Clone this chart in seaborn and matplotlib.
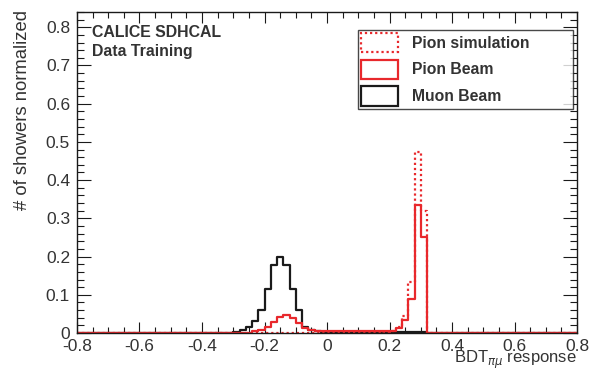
import numpy as np
import pandas as pd
import matplotlib
matplotlib.use("Agg")
import matplotlib.pyplot as plt
import seaborn as sns
from matplotlib.patches import Patch
from matplotlib.ticker import MultipleLocator

# ---- data (bin centres, bin width 0.02 on [-0.8, 0.8]) ----
muon_x = [-0.29, -0.27, -0.25, -0.23, -0.21, -0.19, -0.17, -0.15, -0.13, -0.11,
          -0.09, -0.07, -0.05, -0.03, -0.01, 0.01, 0.03, 0.05, 0.07, 0.09, 0.11,
          0.13, 0.15, 0.17, 0.19, 0.21, 0.23, 0.25, 0.27, 0.29, 0.31]
muon_y = [0.003, 0.008, 0.017, 0.032, 0.060, 0.114, 0.178, 0.200, 0.178, 0.115,
          0.060, 0.017, 0.007, 0.004, 0.003, 0.003, 0.003, 0.003, 0.003, 0.003, 0.003,
          0.003, 0.003, 0.003, 0.003, 0.003, 0.003, 0.002, 0.002, 0.002, 0.002]

beam_x = [-0.23, -0.21, -0.19, -0.17, -0.15, -0.13, -0.11, -0.09, -0.07, -0.05,
          -0.03, -0.01, 0.01, 0.03, 0.05, 0.07, 0.09, 0.11, 0.13, 0.15, 0.17,
          0.19, 0.21, 0.23, 0.25, 0.27, 0.29, 0.31]
beam_y = [0.004, 0.008, 0.017, 0.030, 0.041, 0.047, 0.039, 0.026, 0.013, 0.008,
          0.005, 0.004, 0.004, 0.004, 0.004, 0.004, 0.004, 0.004, 0.004, 0.004, 0.004,
          0.005, 0.006, 0.014, 0.035, 0.089, 0.335, 0.252]

sim_x = [0.19, 0.21, 0.23, 0.25, 0.27, 0.29, 0.31]
sim_y = [0.003, 0.006, 0.016, 0.045, 0.134, 0.474, 0.320]

x_ticks = [-0.8, -0.6, -0.4, -0.2, 0, 0.2, 0.4, 0.6, 0.8]
x_ticklabels = ["-0.8", "-0.6", "-0.4", "-0.2", "0", "0.2", "0.4", "0.6", "0.8"]
y_ticks = [0, 0.1, 0.2, 0.3, 0.4, 0.5, 0.6, 0.7, 0.8]
y_ticklabels = ["0", "0.1", "0.2", "0.3", "0.4", "0.5", "0.6", "0.7", "0.8"]

sns.set_style("ticks")
plt.rcParams["font.family"] = ["Liberation Sans", "DejaVu Sans"]
plt.rcParams["axes.unicode_minus"] = False

RED = "#e8282c"
BLACK = "#1a1a1a"
TXT = "#333333"

fig = plt.figure(figsize=(5.9, 3.71), dpi=100)
ax = fig.add_axes([0.1305, 0.1024, 0.8475, 0.8653])

common = dict(bins=80, binrange=(-0.8, 0.8), element="step", fill=False, ax=ax)
sns.histplot(x=muon_x, weights=muon_y, color=BLACK, linewidth=1.6, **common)
sns.histplot(x=beam_x, weights=beam_y, color=RED, linewidth=1.6, **common)
sns.histplot(x=sim_x, weights=sim_y, color=RED, linewidth=1.6,
             linestyle=(0, (1, 1.3)), **common)

ax.set_xlim(-0.8, 0.8)
ax.set_ylim(0, 0.84)
ax.set_xticks(x_ticks)
ax.set_xticklabels(x_ticklabels)
ax.set_yticks(y_ticks)
ax.set_yticklabels(y_ticklabels)
ax.xaxis.set_minor_locator(MultipleLocator(0.05))
ax.yaxis.set_minor_locator(MultipleLocator(0.02))
ax.tick_params(axis="both", which="both", direction="in", top=True, right=True,
               colors=BLACK, labelcolor=TXT, labelsize=12.5, width=0.8)
ax.tick_params(axis="x", which="major", length=8, pad=4)
ax.tick_params(axis="x", which="minor", length=4)
ax.tick_params(axis="y", which="major", length=10, pad=5)
ax.tick_params(axis="y", which="minor", length=5)
for s in ax.spines.values():
    s.set_linewidth(1.0)
    s.set_color(BLACK)

ax.set_xlabel(r"BDT$_{\pi\mu}$ response", loc="right", fontsize=12, color=TXT)
ax.xaxis.set_label_coords(1.0, -0.05)
ax.set_ylabel("# of showers normalized", loc="top", fontsize=13.3, color=TXT)
ax.yaxis.set_label_coords(-0.092, 1.006)

ax.text(0.03, 0.935, "CALICE SDHCAL", transform=ax.transAxes, fontsize=11.4,
        fontweight="bold", color=TXT, va="center", ha="left")
ax.text(0.03, 0.878, "Data Training", transform=ax.transAxes, fontsize=11.4,
        fontweight="bold", color=TXT, va="center", ha="left")

handles = [
    Patch(facecolor="none", edgecolor=RED, linestyle=(0, (1, 1.3)), linewidth=1.6),
    Patch(facecolor="none", edgecolor=RED, linewidth=1.6),
    Patch(facecolor="none", edgecolor=BLACK, linewidth=1.6),
]
labels = ["Pion simulation", "Pion Beam", "Muon Beam"]
leg = ax.legend(handles, labels, loc="upper left", bbox_to_anchor=(0.562, 0.701, 0.43, 0.243),
                mode="expand", frameon=True, fancybox=False, edgecolor=BLACK,
                prop={"weight": "bold", "size": 11.3}, handlelength=2.35, handleheight=1.55,
                labelspacing=0.45, borderpad=0.18, handletextpad=0.9, borderaxespad=0)
leg.get_frame().set_linewidth(1.0)
for t in leg.get_texts():
    t.set_color(TXT)

fig.savefig("out.png", dpi=100)
